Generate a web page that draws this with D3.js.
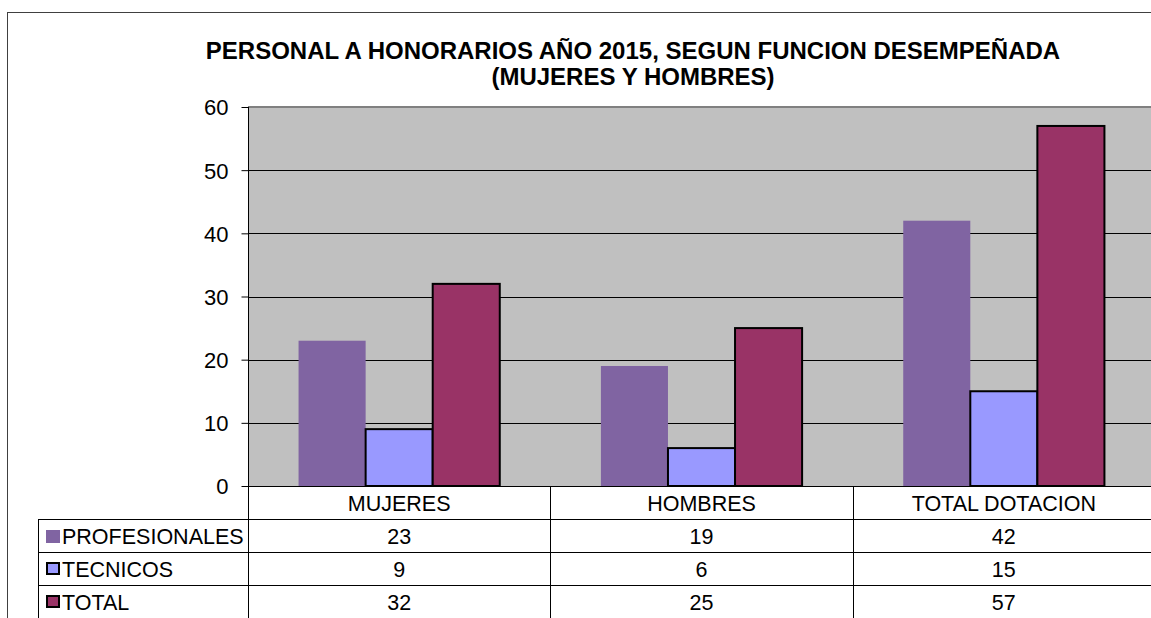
<!DOCTYPE html>
<html>
<head>
<meta charset="utf-8">
<script src="https://cdn.jsdelivr.net/npm/d3@7"></script>
<style>
  body { margin: 0; background: #fff; }
  svg { display: block; font-family: "Liberation Sans", Arial, sans-serif; }
</style>
</head>
<body>
<div id="chart"></div>
<script>
// data
var categories = ["MUJERES", "HOMBRES", "TOTAL DOTACION"];
var seriesNames = ["PROFESIONALES", "TECNICOS", "TOTAL"];
var profesionales = [23, 19, 42];
var tecnicos = [9, 6, 15];
var total = [32, 25, 57];
var yTicks = [0, 10, 20, 30, 40, 50, 60];

var seriesValues = [profesionales, tecnicos, total];
var colors = ["#8064A2", "#9999FF", "#993366"];
var strokes = ["none", "#000", "#000"];

var W = 1151, H = 618;
var plot = { left: 248, top: 107, right: 1155, bottom: 486 };
var rowH = 33;

var svg = d3.select("#chart").append("svg")
    .attr("width", W)
    .attr("height", H);

// outer chart border
svg.append("rect")
    .attr("x", 7.5).attr("y", 12.5)
    .attr("width", 1300).attr("height", 700)
    .attr("fill", "#fff")
    .attr("stroke", "#404040");

// title
svg.append("text")
    .attr("x", 633).attr("y", 59)
    .attr("text-anchor", "middle")
    .attr("font-size", 24).attr("font-weight", "bold")
    .text("PERSONAL A HONORARIOS AÑO 2015, SEGUN FUNCION DESEMPEÑADA");
svg.append("text")
    .attr("x", 633).attr("y", 85)
    .attr("text-anchor", "middle")
    .attr("font-size", 24).attr("font-weight", "bold")
    .text("(MUJERES Y HOMBRES)");

var x = d3.scaleBand()
    .domain(categories)
    .range([plot.left, plot.right]);

var xs = d3.scaleBand()
    .domain(seriesNames)
    .range([0, x.bandwidth()])
    .paddingOuter(0.754);

var y = d3.scaleLinear()
    .domain([0, 60])
    .range([plot.bottom, plot.top]);

// plot background
svg.append("rect")
    .attr("x", plot.left).attr("y", plot.top)
    .attr("width", plot.right - plot.left)
    .attr("height", plot.bottom - plot.top)
    .attr("fill", "#C0C0C0");

// gridlines
svg.append("g").selectAll("line")
    .data(yTicks.filter(function(t){ return t > 0 && t < 60; }))
    .enter().append("line")
    .attr("x1", plot.left).attr("x2", plot.right)
    .attr("y1", function(d){ return Math.round(y(d)) + 0.5; })
    .attr("y2", function(d){ return Math.round(y(d)) + 0.5; })
    .attr("stroke", "#000");

svg.append("line")
    .attr("x1", plot.left).attr("x2", plot.right)
    .attr("y1", Math.round(y(60))).attr("y2", Math.round(y(60)))
    .attr("stroke", "#808080").attr("stroke-width", 2);

// bars
var barG = svg.append("g");
seriesNames.forEach(function(s, i){
    barG.selectAll(".bar" + i)
        .data(seriesValues[i])
        .enter().append("rect")
        .attr("x", function(d, j){ return x(categories[j]) + xs(s); })
        .attr("y", function(d){ return y(d); })
        .attr("width", xs.bandwidth())
        .attr("height", function(d){ return y(0) - y(d); })
        .attr("fill", colors[i])
        .attr("stroke", strokes[i])
        .attr("stroke-width", 2);
});

// y axis
var yAxis = d3.axisLeft(y)
    .tickValues(yTicks)
    .tickSize(7)
    .tickPadding(13)
    .tickFormat(d3.format("d"));
var ya = svg.append("g")
    .attr("transform", "translate(" + (plot.left + 0.5) + ",0)")
    .call(yAxis);
ya.select(".domain").remove();
ya.selectAll("line").attr("stroke", "#000");
ya.selectAll("text")
    .attr("font-size", 22)
    .attr("dy", "0.36em")
    .attr("font-family", "Liberation Sans, Arial, sans-serif")
    .attr("fill", "#000");

// axis line down through the table
svg.append("line")
    .attr("x1", plot.left + 0.5).attr("x2", plot.left + 0.5)
    .attr("y1", plot.top).attr("y2", plot.bottom + rowH * 4)
    .attr("stroke", "#000");
svg.append("line")
    .attr("x1", plot.left).attr("x2", plot.right)
    .attr("y1", plot.bottom + 0.5).attr("y2", plot.bottom + 0.5)
    .attr("stroke", "#000");

// data table
var table = svg.append("g");
var fs = 21.5;
// column separators
table.selectAll(".colsep")
    .data(categories.slice(1))
    .enter().append("line")
    .attr("x1", function(d){ return Math.round(x(d)) + 0.5; })
    .attr("x2", function(d){ return Math.round(x(d)) + 0.5; })
    .attr("y1", plot.bottom).attr("y2", plot.bottom + rowH * 4)
    .attr("stroke", "#000");
// left edge of label column
table.append("line")
    .attr("x1", 38.5).attr("x2", 38.5)
    .attr("y1", plot.bottom + rowH).attr("y2", plot.bottom + rowH * 4)
    .attr("stroke", "#000");
// row separators
table.selectAll(".rowsep")
    .data([1, 2, 3, 4])
    .enter().append("line")
    .attr("x1", 38).attr("x2", plot.right)
    .attr("y1", function(d){ return plot.bottom + rowH * d + 0.5; })
    .attr("y2", function(d){ return plot.bottom + rowH * d + 0.5; })
    .attr("stroke", "#000");

// category labels
table.selectAll(".cat")
    .data(categories)
    .enter().append("text")
    .attr("x", function(d){ return x(d) + x.bandwidth() / 2; })
    .attr("y", plot.bottom + rowH / 2 + 8)
    .attr("text-anchor", "middle")
    .attr("font-size", fs)
    .text(function(d){ return d; });

seriesNames.forEach(function(s, i){
    var ry = plot.bottom + rowH * (i + 1);
    if (i === 0) {
        table.append("rect")
            .attr("x", 46).attr("y", ry + 11)
            .attr("width", 14).attr("height", 13)
            .attr("fill", colors[i]);
    } else {
        table.append("rect")
            .attr("x", 47).attr("y", ry + 11)
            .attr("width", 12).attr("height", 11)
            .attr("fill", colors[i])
            .attr("stroke", strokes[i])
            .attr("stroke-width", 2);
    }
    table.append("text")
        .attr("x", 62).attr("y", ry + rowH / 2 + 8)
        .attr("font-size", fs)
        .text(s);
    table.selectAll(".val" + i)
        .data(seriesValues[i])
        .enter().append("text")
        .attr("x", function(d, j){ return x(categories[j]) + x.bandwidth() / 2; })
        .attr("y", ry + rowH / 2 + 8)
        .attr("text-anchor", "middle")
        .attr("font-size", fs)
        .text(function(d){ return d; });
});
</script>
</body>
</html>
